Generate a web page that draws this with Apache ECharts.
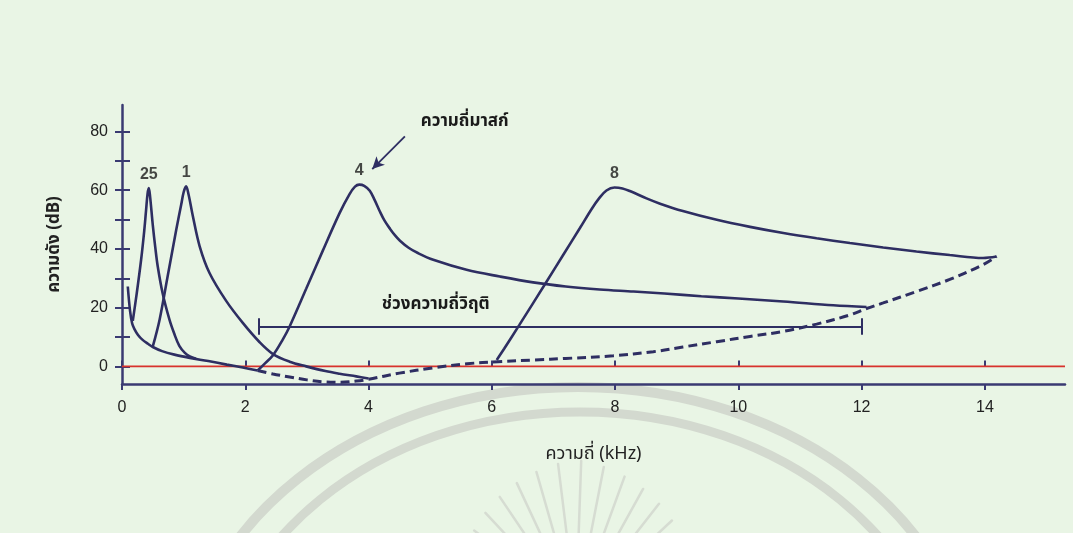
<!DOCTYPE html>
<html>
<head>
<meta charset="utf-8">
<script src="https://cdn.jsdelivr.net/npm/echarts@6/dist/echarts.min.js"></script>
<style>
  html, body { margin: 0; padding: 0; background: #e9f5e5; }
  #chart { width: 1073px; height: 533px; }
</style>
</head>
<body>
<div id="chart"></div>
<script>
// Axis ticks and labels
const xTicks = [0, 2, 4, 6, 8, 10, 12, 14];
const yTicks = [0, 10, 20, 30, 40, 50, 60, 70, 80];
const yLabelValues = [0, 20, 40, 60, 80];

// Threshold in quiet: solid low-frequency part, dashed continuation
const thresholdSolid = [
  [0.094, 27.2], [0.13, 19.0], [0.165, 14.6], [0.2, 12.8], [0.26, 10.7], [0.33, 9.1],
  [0.42, 7.7], [0.5, 6.6], [0.65, 5.2], [0.85, 4.0], [1.1, 2.9], [1.4, 1.8],
  [1.7, 0.6], [1.96, -0.4], [2.2, -1.4]
];
const thresholdDashed = [
  [2.2, -1.4], [2.45, -2.6], [2.72, -3.6], [3.0, -4.6], [3.3, -5.3], [3.55, -5.4],
  [3.8, -5.0], [4.0, -4.4], [4.5, -2.3], [5.05, -0.5], [5.6, 0.9], [6.1, 1.6],
  [6.7, 2.2], [7.2, 2.7], [7.97, 3.6], [8.62, 5.0], [9.1, 6.6], [9.65, 8.4],
  [10.19, 10.2], [10.73, 11.9], [11.27, 14.4], [11.81, 17.5], [12.08, 19.7],
  [12.35, 21.6], [12.89, 25.5], [13.43, 29.6], [13.97, 34.6], [14.19, 37.4]
];

// Masking curves for maskers at 0.25, 1, 4 and 8 kHz
const masker025 = [
  [0.175, 15.5], [0.24, 25.0], [0.31, 36.3], [0.36, 46.0], [0.39, 53.0], [0.415, 58.8],
  [0.435, 60.7], [0.455, 58.0], [0.5, 48.0], [0.54, 40.5], [0.58, 34.0], [0.66, 24.8],
  [0.77, 15.9], [0.85, 11.0], [0.93, 7.0], [1.02, 4.6], [1.1, 3.4], [1.2, 2.6]
];
const masker1 = [
  [0.5, 6.8], [0.61, 15.9], [0.74, 30.6], [0.88, 46.5], [0.96, 55.0], [1.0, 59.3],
  [1.04, 61.3], [1.08, 58.5], [1.15, 51.1], [1.26, 40.9], [1.42, 31.8], [1.69, 22.3],
  [1.96, 14.8], [2.23, 8.3], [2.45, 4.2], [2.72, 1.6], [2.99, 0.0], [3.3, -1.6],
  [3.53, -2.5], [3.8, -3.4], [4.0, -4.1]
];
const masker4 = [
  [2.2, -1.4], [2.3, 0.6], [2.45, 3.8], [2.61, 9.2], [2.72, 13.6], [2.99, 26.5],
  [3.26, 39.5], [3.53, 52.2], [3.69, 58.6], [3.78, 61.2], [3.85, 61.9], [3.93, 61.5],
  [4.02, 59.8], [4.1, 56.6], [4.18, 52.9], [4.26, 49.6], [4.35, 46.8], [4.43, 44.6],
  [4.51, 42.8], [4.65, 40.4], [4.8, 38.6], [5.05, 36.3], [5.59, 32.9], [6.13, 30.6],
  [6.67, 28.6], [7.2, 27.2], [7.75, 26.2], [8.3, 25.5], [8.8, 24.8], [9.4, 23.9],
  [10.0, 23.1], [10.73, 22.1], [11.54, 20.8], [12.08, 20.2]
];
const masker8 = [
  [6.08, 2.2], [6.2, 6.0], [6.45, 14.2], [6.89, 28.9], [7.16, 38.0], [7.43, 47.1],
  [7.62, 53.6], [7.74, 57.2], [7.86, 59.9], [7.99, 60.9], [8.12, 60.6], [8.24, 59.7],
  [8.51, 57.2], [8.73, 55.4], [9.1, 52.9], [9.65, 49.9], [10.19, 47.5], [10.73, 45.4],
  [11.27, 43.6], [11.81, 42.0], [12.35, 40.5], [12.89, 39.1], [13.43, 37.9],
  [13.97, 36.9], [14.19, 37.4]
];

// Masker names drawn above each peak
const peakNames = ['25', '1', '4', '8'];
const peakPoints = [[0.435, 60.7], [1.04, 61.3], [3.85, 61.9], [7.99, 60.9]];

// Reference line at 0 dB
const zeroLine = [[0, 0], [15.3, 0]];

// Critical band bracket and annotation texts
const bandRange = [2.22, 12.0];
const bandLevel = 13.6;
const bandText = 'ช่วงความถี่วิฤติ';
const maskerText = 'ความถี่มาสก์';
const xName = 'ความถี่ (kHz)';
const yName = 'ความดัง (dB)';

const INK = '#2e2e62';
const AXIS = '#3a3a72';
const THAI = "'Noto Sans Thai', 'Noto Sans', 'DejaVu Sans', sans-serif";
const NUM = "'Liberation Sans', Arial, sans-serif";

const curveStyle = { color: INK, width: 2.6 };

function curve(data, extra) {
  return Object.assign({
    type: 'line', data: data, smooth: 0.35,
    showSymbol: false, symbol: 'none', lineStyle: curveStyle, z: 5, silent: true
  }, extra || {});
}

// Faint seal behind the plot
const SEAL = '#d3d9cf';
const seal = [];
seal.push({ type: 'ellipse', shape: { cx: 578, cy: 700, rx: 396, ry: 313 },
  style: { fill: 'none', stroke: SEAL, lineWidth: 10 }, z: -10, silent: true });
seal.push({ type: 'ellipse', shape: { cx: 580, cy: 712, rx: 368, ry: 300 },
  style: { fill: 'none', stroke: SEAL, lineWidth: 9 }, z: -10, silent: true });
for (let a = -160; a <= -20; a += 9) {
  const r = a * Math.PI / 180;
  const cx = 576, cy = 610;
  const r1 = 70, r2 = 150 - Math.abs(a + 90) * 0.4;
  seal.push({ type: 'line',
    shape: { x1: cx + r1 * Math.cos(r), y1: cy + r1 * Math.sin(r), x2: cx + r2 * Math.cos(r), y2: cy + r2 * Math.sin(r) },
    style: { stroke: '#d6dcd2', lineWidth: 2.5, lineCap: 'round' }, z: -10, silent: true });
}

const chart = echarts.init(document.getElementById('chart'), null, { renderer: 'canvas' });
chart.setOption({
  animation: false,
  backgroundColor: '#e9f5e5',
  graphic: seal,
  grid: { left: 122, right: 8, top: 105, bottom: 149, containLabel: false, outerBoundsMode: 'none' },
  xAxis: [{
    type: 'value', min: 0, max: 15.3,
    name: xName, nameLocation: 'middle', nameGap: 62,
    nameTextStyle: { fontFamily: THAI, fontSize: 18, color: '#222' },
    axisLine: { onZero: false, lineStyle: { color: AXIS, width: 2.5 } },
    axisTick: { customValues: xTicks, length: 6, lineStyle: { color: AXIS, width: 2 } },
    axisLabel: { customValues: xTicks, margin: 16, fontFamily: NUM, fontSize: 16, color: '#222' },
    splitLine: { show: false }
  }, {
    type: 'value', min: 0, max: 15.3, position: 'bottom',
    axisLine: { show: false },
    axisTick: { customValues: xTicks, inside: true, length: 6, lineStyle: { color: AXIS, width: 2 } },
    axisLabel: { show: false }, splitLine: { show: false }
  }],
  yAxis: [{
    type: 'value', min: -6, max: 89,
    name: yName, nameLocation: 'middle', nameRotate: 90, nameGap: 58,
    nameTextStyle: { fontFamily: THAI, fontSize: 17, fontWeight: 'bold', color: '#222' },
    axisLine: { onZero: false, lineStyle: { color: AXIS, width: 2.5 } },
    axisTick: { customValues: yTicks, length: 7, lineStyle: { color: AXIS, width: 2 } },
    axisLabel: { customValues: yLabelValues, margin: 14, fontFamily: NUM, fontSize: 16, color: '#222' },
    splitLine: { show: false }
  }, {
    type: 'value', min: -6, max: 89, position: 'left',
    axisLine: { show: false },
    axisTick: { customValues: yTicks, inside: true, length: 8, lineStyle: { color: AXIS, width: 2 } },
    axisLabel: { show: false }, splitLine: { show: false }
  }],
  series: [
    {
      type: 'line', data: zeroLine, showSymbol: false, symbol: 'none', silent: true, z: 2,
      lineStyle: { color: '#d8322c', width: 1.6 },
      markLine: {
        silent: true, symbol: 'none', label: { show: false },
        lineStyle: { color: INK, width: 2, type: 'solid' },
        data: [
          [{ coord: [bandRange[0], bandLevel] }, { coord: [bandRange[1], bandLevel] }],
          [{ coord: [bandRange[0], bandLevel - 2.8] }, { coord: [bandRange[0], bandLevel + 2.8] }],
          [{ coord: [bandRange[1], bandLevel - 2.8] }, { coord: [bandRange[1], bandLevel + 2.8] }],
          [{ coord: [4.59, 78.3], symbol: 'none' },
           { coord: [4.06, 67.2], symbol: 'arrow', symbolSize: [9, 12],
             lineStyle: { color: INK, width: 1.8 } }]
        ]
      },
      markPoint: {
        silent: true, symbol: 'circle', symbolSize: 0,
        label: { show: true, position: 'inside', fontFamily: THAI, fontSize: 17, fontWeight: 'bold', color: '#1a1a1a' },
        data: [
          { coord: [5.09, 20.7], value: bandText, label: { formatter: bandText } },
          { coord: [5.56, 82.9], value: maskerText, label: { formatter: maskerText } }
        ]
      }
    },
    curve(thresholdSolid),
    curve(thresholdDashed, { lineStyle: { color: INK, width: 3, type: [9, 5] } }),
    curve(masker025),
    curve(masker1),
    curve(masker4),
    curve(masker8),
    {
      type: 'scatter', symbolSize: 0, silent: true, z: 6,
      data: peakPoints.map((p, i) => ({ name: peakNames[i], value: p })),
      label: { show: true, position: 'top', distance: 6, formatter: p => p.name,
        fontFamily: NUM, fontSize: 16, fontWeight: 'bold', color: '#1a1a1a' }
    }
  ]
});
</script>
</body>
</html>
